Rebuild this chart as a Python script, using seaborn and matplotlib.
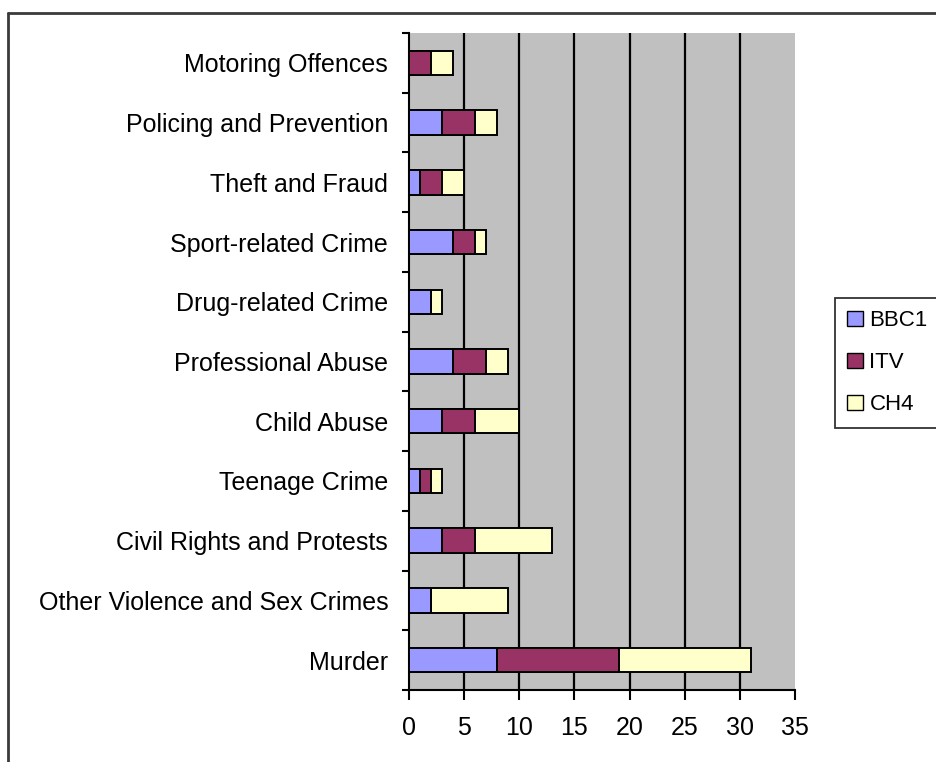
import numpy as np
import pandas as pd
import matplotlib
matplotlib.use("Agg")
import matplotlib.pyplot as plt
from matplotlib.patches import Patch
from matplotlib.lines import Line2D
import seaborn as sns

# ---- data (top to bottom as displayed) ----
categories = ["Motoring Offences", "Policing and Prevention", "Theft and Fraud",
              "Sport-related Crime", "Drug-related Crime", "Professional Abuse",
              "Child Abuse", "Teenage Crime", "Civil Rights and Protests",
              "Other Violence and Sex Crimes", "Murder"]
bbc1 = [0, 3, 1, 4, 2, 4, 3, 1, 3, 2, 8]
itv = [2, 3, 2, 2, 0, 3, 3, 1, 3, 0, 11]
ch4 = [2, 2, 2, 1, 1, 2, 4, 1, 7, 7, 12]
series_names = ["BBC1", "ITV", "CH4"]
x_ticks = [0, 5, 10, 15, 20, 25, 30, 35]

colors = {"BBC1": "#9999FF", "ITV": "#993366", "CH4": "#FFFFCC"}

sns.set_style("white")
plt.rcParams["font.family"] = ["Liberation Sans", "DejaVu Sans"]
plt.rcParams["text.color"] = "black"
plt.rcParams["xtick.color"] = "black"
plt.rcParams["ytick.color"] = "black"

df = pd.DataFrame({"category": categories, "BBC1": bbc1, "ITV": itv, "CH4": ch4})
df["cum_BBC1"] = df["BBC1"]
df["cum_ITV"] = df["BBC1"] + df["ITV"]
df["cum_CH4"] = df["BBC1"] + df["ITV"] + df["CH4"]

fig = plt.figure(figsize=(9.36, 7.62), dpi=100)
ax = fig.add_axes([409 / 936, 1 - 690 / 762, (795 - 409) / 936, (690 - 33) / 762])
ax.set_facecolor("#C0C0C0")

for name in ["CH4", "ITV", "BBC1"]:
    sns.barplot(data=df, x="cum_" + name, y="category", order=categories,
                orient="h", color=colors[name], saturation=1, width=0.41,
                edgecolor="black", linewidth=1.4, ax=ax, zorder=3)

ax.set_xlim(x_ticks[0], x_ticks[-1])
ax.set_ylim(len(categories) - 0.5, -0.5)
ax.set_xticks(x_ticks)
ax.set_xticklabels([str(t) for t in x_ticks])
for t in x_ticks[1:-1]:
    ax.axvline(t, color="black", linewidth=1.6, zorder=1)

ax.set_xlabel("")
ax.set_ylabel("")
for s in ["top", "right"]:
    ax.spines[s].set_visible(False)
for s in ["left", "bottom"]:
    ax.spines[s].set_color("black")
    ax.spines[s].set_linewidth(1.5)

ax.tick_params(axis="x", which="major", direction="out", length=7, width=1.5,
               color="black", labelcolor="black", labelsize=18, pad=12, bottom=True)
ax.tick_params(axis="y", which="major", length=0, labelsize=18, pad=15,
               labelcolor="black")
ax.set_yticks(np.arange(-0.5, len(categories) + 0.5, 1), minor=True)
ax.tick_params(axis="y", which="minor", direction="out", length=5, width=1.5,
               color="black", left=True)

handles = [Patch(facecolor=colors[n], edgecolor="black", linewidth=1.0, label=n)
           for n in series_names]
leg = fig.legend(handles=handles, loc="upper left",
                 bbox_to_anchor=(835 / 936, 1 - 298 / 762), borderaxespad=0,
                 fontsize=16, frameon=True, fancybox=False, handlelength=0.7,
                 handleheight=0.7, handletextpad=0.3, labelspacing=0.95,
                 borderpad=0.55)
leg.get_frame().set_edgecolor("black")
leg.get_frame().set_linewidth(1.3)

# outer chart border (top and left visible)
fig.add_artist(Line2D([8 / 936, 1.0], [1 - 13 / 762, 1 - 13 / 762],
                      color="#3a3a3a", linewidth=2, transform=fig.transFigure))
fig.add_artist(Line2D([8 / 936, 8 / 936], [1 - 13 / 762, 0.0],
                      color="#3a3a3a", linewidth=2, transform=fig.transFigure))

fig.savefig("out.png", dpi=100)
